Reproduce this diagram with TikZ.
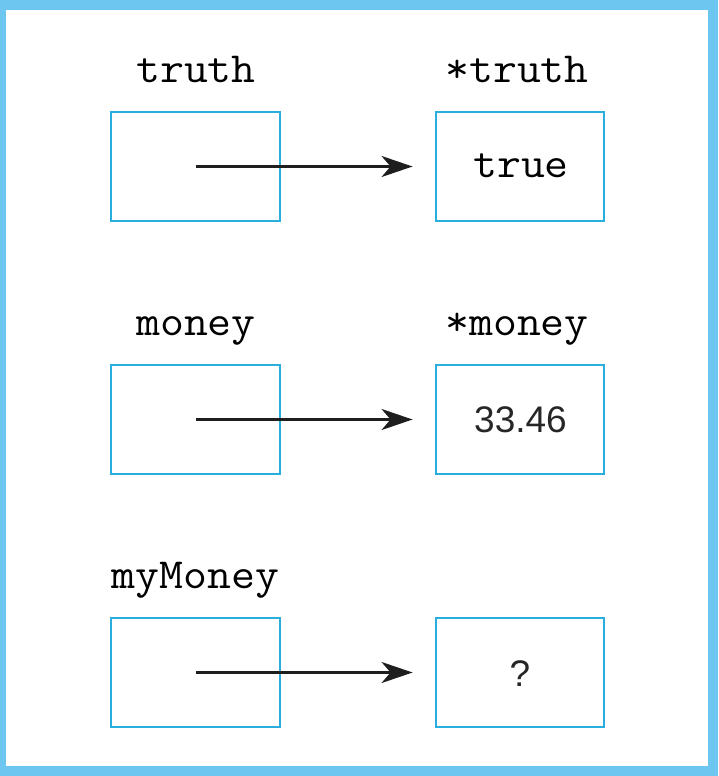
\documentclass[tikz,border=0pt]{standalone}
\usepackage{fontspec}
\usepackage{graphicx}
\newfontfamily\sansfnt{Liberation Sans}
\usetikzlibrary{arrows.meta}
\definecolor{frameblue}{HTML}{6CC6F0}
\definecolor{boxcyan}{HTML}{2AAEDD}
\definecolor{arrowdark}{HTML}{1E1E1E}
\newcommand{\cw}[1]{\scalebox{1.08}[1]{#1}}
\tikzset{
  cell/.style={draw=boxcyan, line width=2.4pt, minimum width=168.5pt, minimum height=108.5pt, inner sep=0pt, fill=white},
  lbl/.style={anchor=base, inner sep=0pt, font=\ttfamily\fontsize{43}{44}\selectfont},
  monoval/.style={font=\ttfamily\fontsize{43}{44}\selectfont, inner sep=0pt},
  sansval/.style={font=\sansfnt\fontsize{37}{38}\selectfont, inner sep=0pt, text=black!85},
  arr/.style={draw=arrowdark, line width=2.4pt, -{Stealth[length=31pt, width=21pt, inset=9pt]}, shorten >=22pt}
}
\begin{document}
\begin{tikzpicture}[x=1pt, y=-1pt]
\useasboundingbox (0,0) rectangle (718,776);
\fill[frameblue] (0,0) rectangle (718,776);
\fill[white] (6,10) rectangle (708,766);

% row 1
\node[cell] (L1) at (195.5,166.5) {};
\node[cell] (R1) at (520,166.5) {};
\node[lbl] (t1) at (196,82) {\cw{truth}};
\node[lbl] (t2) at (517,82) {\cw{*truth}};
\node[monoval] (v1) at (521,166) {\cw{true}};
\draw[arr] (L1.center) -- (R1.west);

% row 2
\node[cell] (L2) at (195.5,419.5) {};
\node[cell] (R2) at (520,419.5) {};
\node[lbl] (m1) at (196,335) {\cw{money}};
\node[lbl] (m2) at (517,335) {\cw{*money}};
\node[sansval] (v2) at (520.5,420) {33.46};
\draw[arr] (L2.center) -- (R2.west);

% row 3
\node[cell] (L3) at (195.5,672.5) {};
\node[cell] (R3) at (520,672.5) {};
\node[lbl] (y1) at (195.5,588) {\cw{myMoney}};
\node[sansval] (v3) at (520,674) {?};
\draw[arr] (L3.center) -- (R3.west);
\end{tikzpicture}
\end{document}
